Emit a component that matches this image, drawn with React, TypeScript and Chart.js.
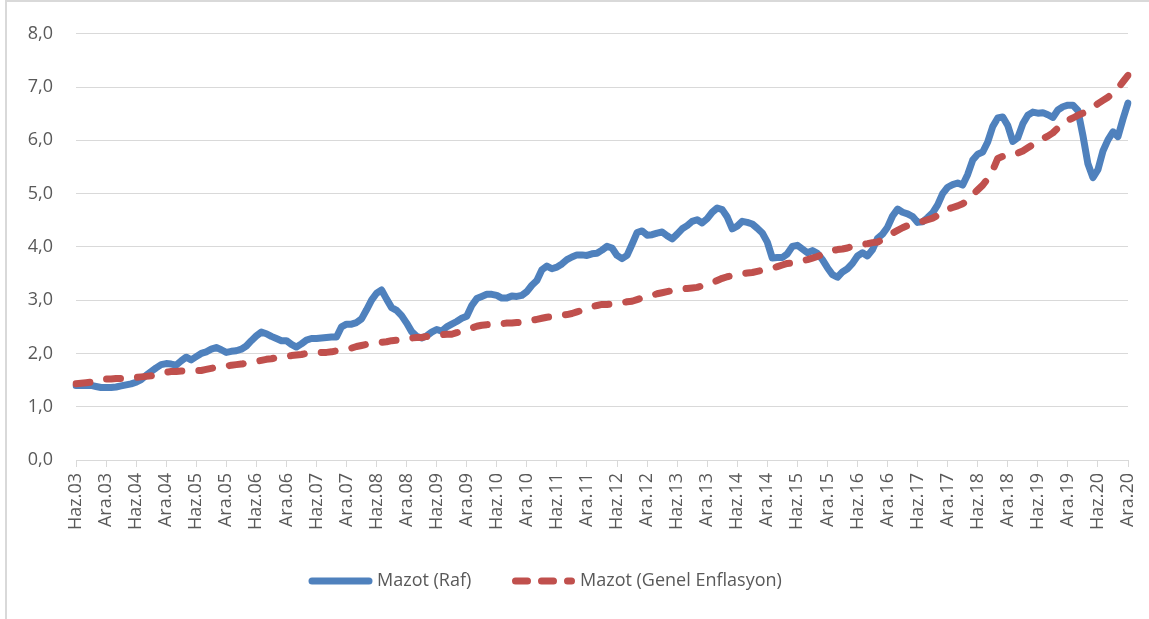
import React, { useEffect, useRef } from 'react';
import { Chart, registerables } from 'chart.js';

Chart.register(...registerables);

const MONTHS = ['Oca', 'Şub', 'Mar', 'Nis', 'May', 'Haz', 'Tem', 'Ağu', 'Eyl', 'Eki', 'Kas', 'Ara'];
const START_YEAR = 2003;
const START_MONTH = 5; // Haziran
const N_POINTS = 211; // Haz.03 .. Ara.20

const categories: string[] = [];
for (let i = 0; i < N_POINTS; i++) {
  const m = (START_MONTH + i) % 12;
  const y = START_YEAR + Math.floor((START_MONTH + i) / 12);
  categories.push(`${MONTHS[m]}.${String(y % 100).padStart(2, '0')}`);
}

const SERIES_NAMES = ['Mazot (Raf)', 'Mazot (Genel Enflasyon)'];

const raf = [
  1.40, 1.40, 1.40, 1.40, 1.38, 1.36, 1.36,
  1.36, 1.37, 1.39, 1.41, 1.43, 1.46, 1.51, 1.59, 1.66, 1.73, 1.79, 1.81,
  1.80, 1.78, 1.86, 1.93, 1.88, 1.94, 2.00, 2.03, 2.08, 2.11, 2.07, 2.02,
  2.04, 2.05, 2.08, 2.14, 2.24, 2.33, 2.40, 2.37, 2.32, 2.28, 2.24, 2.24,
  2.17, 2.12, 2.18, 2.25, 2.28, 2.28, 2.29, 2.30, 2.31, 2.31, 2.50, 2.55,
  2.55, 2.58, 2.65, 2.82, 3.00, 3.13, 3.19, 3.02, 2.86, 2.81, 2.71, 2.57,
  2.41, 2.32, 2.29, 2.33, 2.40, 2.45, 2.42, 2.50, 2.55, 2.60, 2.66, 2.70,
  2.90, 3.03, 3.07, 3.11, 3.11, 3.09, 3.04, 3.04, 3.08, 3.07, 3.09, 3.16,
  3.28, 3.37, 3.57, 3.64, 3.59, 3.62, 3.68, 3.76, 3.81, 3.85, 3.85, 3.84,
  3.87, 3.88, 3.94, 4.01, 3.98, 3.84, 3.78, 3.84, 4.05, 4.27, 4.30, 4.22,
  4.23, 4.26, 4.28, 4.21, 4.15, 4.24, 4.34, 4.40, 4.48, 4.51, 4.45, 4.53,
  4.65, 4.73, 4.70, 4.56, 4.34, 4.39, 4.48, 4.46, 4.43, 4.35, 4.26, 4.09,
  3.79, 3.80, 3.80, 3.87, 4.01, 4.03, 3.96, 3.89, 3.93, 3.88, 3.76, 3.61,
  3.48, 3.43, 3.53, 3.59, 3.69, 3.83, 3.89, 3.83, 3.95, 4.16, 4.24, 4.37,
  4.58, 4.71, 4.65, 4.62, 4.57, 4.46, 4.47, 4.55, 4.64, 4.79, 5.00, 5.12,
  5.17, 5.20, 5.16, 5.36, 5.63, 5.74, 5.78, 5.97, 6.26, 6.42, 6.44, 6.28,
  5.98, 6.05, 6.31, 6.47, 6.53, 6.51, 6.52, 6.48, 6.43, 6.57, 6.63, 6.66,
  6.66, 6.56, 6.09, 5.56, 5.30, 5.45, 5.80, 6.01, 6.16, 6.07, 6.40, 6.70,
];

const genel = [
  1.43, 1.44, 1.45, 1.46, 1.49, 1.51, 1.52,
  1.52, 1.53, 1.53, 1.54, 1.54, 1.55, 1.56, 1.57, 1.58, 1.60, 1.62, 1.65,
  1.66, 1.66, 1.67, 1.68, 1.68, 1.68, 1.68, 1.70, 1.72, 1.74, 1.75, 1.76,
  1.78, 1.79, 1.80, 1.82, 1.83, 1.85, 1.87, 1.89, 1.90, 1.92, 1.93, 1.94,
  1.96, 1.97, 1.98, 2.00, 2.01, 2.01, 2.02, 2.02, 2.03, 2.05, 2.07, 2.08,
  2.10, 2.13, 2.15, 2.17, 2.19, 2.20, 2.21, 2.22, 2.24, 2.25, 2.27, 2.28,
  2.29, 2.30, 2.30, 2.32, 2.33, 2.34, 2.35, 2.36, 2.36, 2.39, 2.42, 2.45,
  2.48, 2.51, 2.53, 2.54, 2.55, 2.56, 2.56, 2.57, 2.57, 2.58, 2.59, 2.61,
  2.62, 2.64, 2.66, 2.68, 2.69, 2.71, 2.72, 2.73, 2.75, 2.78, 2.81, 2.85,
  2.88, 2.90, 2.92, 2.92, 2.93, 2.94, 2.95, 2.97, 2.98, 3.01, 3.04, 3.07,
  3.09, 3.12, 3.14, 3.16, 3.18, 3.20, 3.21, 3.22, 3.23, 3.24, 3.27, 3.30,
  3.33, 3.37, 3.41, 3.44, 3.46, 3.48, 3.50, 3.51, 3.52, 3.54, 3.56, 3.58,
  3.60, 3.63, 3.66, 3.69, 3.70, 3.72, 3.74, 3.76, 3.79, 3.82, 3.86, 3.90,
  3.93, 3.95, 3.96, 3.98, 4.01, 4.03, 4.05, 4.06, 4.08, 4.09, 4.14, 4.20,
  4.26, 4.31, 4.36, 4.40, 4.43, 4.46, 4.48, 4.51, 4.54, 4.59, 4.65, 4.71,
  4.74, 4.77, 4.81, 4.88, 4.98, 5.07, 5.16, 5.28, 5.44, 5.66, 5.70, 5.70,
  5.71, 5.76, 5.80, 5.86, 5.92, 5.98, 6.03, 6.08, 6.14, 6.23, 6.32, 6.38,
  6.42, 6.47, 6.51, 6.56, 6.62, 6.69, 6.75, 6.81, 6.88, 6.98, 7.10, 7.22,
];

const Y_MIN = 0;
const Y_MAX = 8;
const Y_STEP = 1;
const TICK_EVERY = 6;

const BLUE = '#4F81BD';
const RED = '#C0504D';
const TEXT = '#595959';
const GRID = '#D9D9D9';
const FONT = "'Open Sans', sans-serif";

const legendPlugin = {
  id: 'excelLegend',
  afterDraw(chart: any) {
    const ctx = chart.ctx as CanvasRenderingContext2D;
    const y = 581;
    ctx.save();
    ctx.lineWidth = 7;
    ctx.lineCap = 'round';
    ctx.strokeStyle = BLUE;
    ctx.setLineDash([]);
    ctx.beginPath();
    ctx.moveTo(312, y);
    ctx.lineTo(369, y);
    ctx.stroke();

    ctx.strokeStyle = RED;
    ctx.setLineDash([12, 14]);
    ctx.beginPath();
    ctx.moveTo(515.5, y);
    ctx.lineTo(571.5, y);
    ctx.stroke();
    ctx.setLineDash([]);

    ctx.font = `18px ${FONT}`;
    ctx.fillStyle = TEXT;
    ctx.textBaseline = 'middle';
    ctx.textAlign = 'left';
    ctx.fillText(SERIES_NAMES[0], 377, y);
    ctx.fillText(SERIES_NAMES[1], 580, y);
    ctx.restore();
  },
};

export default function App() {
  const canvasRef = useRef<HTMLCanvasElement | null>(null);

  useEffect(() => {
    document.body.style.margin = '0';
    document.body.style.overflow = 'hidden';
    const canvas = canvasRef.current;
    if (!canvas) return;

    const chart = new Chart(canvas, {
      type: 'line',
      data: {
        labels: categories,
        datasets: [
          {
            label: SERIES_NAMES[0],
            data: raf,
            borderColor: BLUE,
            backgroundColor: BLUE,
            borderWidth: 7,
            pointRadius: 0,
            pointHoverRadius: 0,
            tension: 0,
            fill: false,
            borderJoinStyle: 'round',
            borderCapStyle: 'round',
            order: 2,
          },
          {
            label: SERIES_NAMES[1],
            data: genel,
            borderColor: RED,
            backgroundColor: RED,
            borderWidth: 7,
            borderDash: [14, 17],
            pointRadius: 0,
            pointHoverRadius: 0,
            tension: 0,
            fill: false,
            borderJoinStyle: 'round',
            borderCapStyle: 'round',
            order: 1,
          },
        ],
      },
      options: {
        responsive: false,
        animation: false,
        devicePixelRatio: 1,
        layout: { padding: { left: 0, top: 31, right: 21, bottom: 0 } },
        plugins: {
          legend: { display: false },
          tooltip: { enabled: false },
        },
        scales: {
          x: {
            type: 'category',
            offset: false,
            grid: {
              drawOnChartArea: false,
              drawTicks: true,
              tickLength: 7,
              color: GRID,
              lineWidth: 1,
            },
            border: { display: true, color: GRID, width: 1 },
            ticks: {
              autoSkip: false,
              maxRotation: 90,
              minRotation: 90,
              padding: 6,
              color: TEXT,
              font: { family: FONT, size: 18 },
            },
            afterBuildTicks: (scale: any) => {
              scale.ticks = scale.ticks.filter((t: any) => t.value % TICK_EVERY === 0);
            },
            afterFit: (scale: any) => {
              scale.height = 159;
              scale.paddingLeft = 0;
              scale.paddingRight = 0;
            },
          },
          y: {
            min: Y_MIN,
            max: Y_MAX,
            ticks: {
              stepSize: Y_STEP,
              padding: 23,
              color: TEXT,
              font: { family: FONT, size: 18 },
              callback: (v: any) => Number(v).toFixed(1).replace('.', ','),
            },
            grid: { color: GRID, lineWidth: 1, drawTicks: false },
            border: { display: false },
            afterFit: (scale: any) => {
              scale.width = 76;
            },
          },
        },
      },
      plugins: [legendPlugin],
    } as any);

    return () => chart.destroy();
  }, []);

  return (
    <div style={{ position: 'relative', width: 1149, height: 619, background: '#fff', overflow: 'hidden' }}>
      <div
        style={{
          position: 'absolute',
          left: 5,
          top: 0,
          width: 1160,
          height: 640,
          borderLeft: '2px solid #D9D9D9',
          borderTop: '2px solid #D9D9D9',
          boxSizing: 'border-box',
        }}
      />
      <canvas
        ref={canvasRef}
        width={1149}
        height={619}
        style={{ position: 'absolute', left: 0, top: 0, width: 1149, height: 619 }}
      />
    </div>
  );
}
